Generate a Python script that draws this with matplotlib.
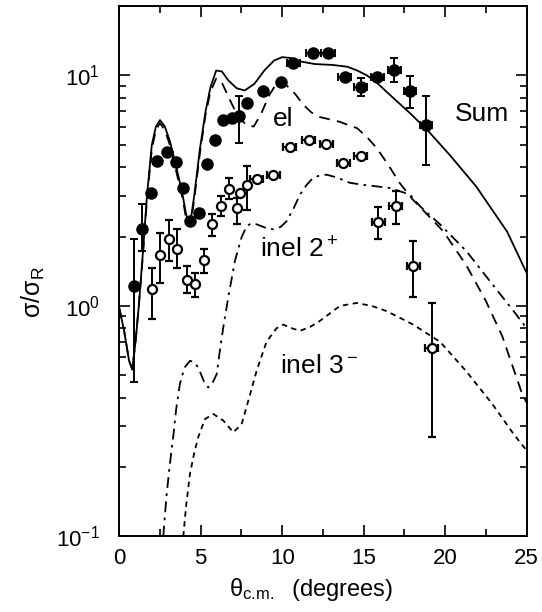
#Import Lib
import matplotlib
matplotlib.use('Agg')
import matplotlib.pyplot as plt
import numpy as np

plt.rcParams['font.family'] = ['Liberation Sans', 'DejaVu Sans']
plt.rcParams['mathtext.default'] = 'regular'

#elastic data (filled circles)
el_theta = [0.90, 1.41, 1.93, 2.29, 2.94, 3.48, 3.93, 4.34, 4.91, 5.40, 5.89, 6.38, 6.90, 7.36, 7.82,
            8.83, 9.90, 10.67, 11.90, 12.82, 13.85, 14.83, 15.83, 16.87, 17.83, 18.82]
el_val = [1.22, 2.15, 3.09, 4.24, 4.66, 4.22, 3.25, 2.33, 2.54, 4.11, 5.27, 6.43, 6.54, 6.65, 7.59,
          8.59, 9.36, 11.3, 12.5, 12.5, 9.8, 8.95, 9.8, 10.6, 8.59, 6.1]
el_lo = [0.47, 1.73, 3.09, 4.24, 4.66, 4.22, 3.25, 2.33, 2.54, 4.11, 5.27, 6.43, 6.54, 5.09, 7.59,
         8.59, 9.36, 11.3, 12.5, 12.5, 9.8, 8.1, 9.8, 9.4, 7.21, 4.1]
el_hi = [1.96, 2.76, 3.09, 4.24, 4.66, 4.22, 3.25, 2.33, 2.54, 4.11, 5.27, 6.43, 6.54, 8.1, 7.59,
         8.59, 9.36, 11.3, 12.5, 12.5, 9.8, 9.75, 9.8, 11.9, 9.9, 8.1]
el_xerr = [0, 0, 0, 0, 0, 0, 0, 0, 0, 0, 0, 0, 0, 0, 0,
           0, 0, 0.4, 0.45, 0.45, 0.4, 0.4, 0.4, 0.4, 0.35, 0.35]

#inelastic 2+ data (open circles)
in_theta = [1.99, 2.50, 3.05, 3.56, 4.13, 4.66, 5.20, 5.67, 6.22, 6.75, 7.24, 7.40, 7.82, 8.43, 9.45,
            10.47, 11.64, 12.70, 13.74, 14.81, 15.89, 16.98, 18.04, 19.17]
in_val = [1.18, 1.66, 1.95, 1.76, 1.30, 1.24, 1.59, 2.27, 2.71, 3.23, 2.65, 3.10, 3.34, 3.57, 3.69,
          4.89, 5.26, 5.04, 4.17, 4.46, 2.32, 2.71, 1.49, 0.656]
in_lo = [0.876, 1.26, 1.57, 1.46, 1.14, 1.09, 1.39, 2.01, 2.45, 2.90, 2.26, 3.10, 2.62, 3.57, 3.69,
         4.89, 5.26, 5.04, 4.17, 4.46, 1.96, 2.27, 1.09, 0.27]
in_hi = [1.46, 2.08, 2.37, 2.15, 1.49, 1.39, 1.76, 2.51, 3.00, 3.60, 2.94, 3.10, 4.03, 3.57, 3.69,
         4.89, 5.26, 5.04, 4.17, 4.46, 2.68, 3.15, 1.91, 1.03]
in_xerr = [0, 0, 0, 0, 0, 0, 0, 0, 0, 0, 0, 0, 0, 0.4, 0.4,
           0.4, 0.4, 0.4, 0.4, 0.4, 0.4, 0.4, 0.4, 0.4]

#Sum curve
sum_theta = [0.0, 0.3, 0.6, 0.8, 1.0, 1.2, 1.45, 1.7, 2.0, 2.25, 2.5, 2.8, 3.1, 3.4, 3.65, 3.9, 4.1,
             4.25, 4.4, 4.6, 4.95, 5.3, 5.6, 5.95, 6.3, 6.7, 7.2, 7.7, 8.3, 8.9, 9.5, 10.0, 10.5,
             11.1, 12.0, 13.1, 14.0, 14.6, 15.2, 15.8, 16.8, 17.8, 18.9, 20.3, 21.9, 23.8, 25.0]
sum_val = [0.98, 0.78, 0.58, 0.53, 0.70, 1.0, 1.7, 3.0, 5.0, 6.0, 6.4, 6.0, 5.2, 4.3, 3.6, 3.0, 2.5,
           2.3, 2.4, 3.0, 4.8, 7.0, 8.9, 10.5, 10.4, 9.5, 8.8, 8.6, 9.2, 10.5, 11.6, 12.0, 11.9,
           11.5, 11.2, 11.1, 10.9, 10.5, 10.0, 9.3, 8.0, 6.9, 5.8, 4.5, 3.3, 2.1, 1.39]

#elastic curve
elc_theta = [0.0, 0.3, 0.6, 0.8, 1.0, 1.2, 1.45, 1.7, 2.0, 2.25, 2.5, 2.8, 3.1, 3.4, 3.65, 3.9, 4.1,
             4.25, 4.4, 4.6, 4.95, 5.3, 5.6, 5.95, 6.3, 6.8, 7.3, 7.8, 8.25, 8.7, 9.2, 9.6, 9.9,
             10.3, 10.8, 11.3, 11.8, 12.3, 13.5, 14.6, 15.2, 15.8, 16.5, 17.2, 18.0, 19.0, 19.9,
             21.3, 22.5, 23.5, 24.7, 25.0]
elc_val = [0.98, 0.78, 0.58, 0.53, 0.70, 1.0, 1.65, 2.9, 4.8, 5.8, 6.2, 5.8, 5.0, 4.1, 3.45, 2.9, 2.4,
           2.22, 2.3, 2.9, 4.6, 6.8, 8.5, 9.7, 9.3, 7.8, 6.6, 6.1, 6.0, 6.8, 8.2, 9.1, 9.4,
           9.0, 8.3, 7.45, 6.9, 6.6, 6.3, 5.9, 5.4, 4.84, 4.1, 3.42, 2.9, 2.45, 2.1,
           1.5, 1.05, 0.74, 0.42, 0.38]

#inel 2+ curve
i2_theta = [2.7, 2.9, 3.11, 3.31, 3.5, 3.72, 4.0, 4.34, 4.6, 4.85, 5.2, 5.46, 5.7, 5.98, 6.2, 6.4,
            6.7, 7.1, 7.5, 7.82, 8.1, 8.43, 9.0, 9.45, 9.9, 10.27, 10.7, 11.09, 11.5, 11.9, 12.3,
            12.72, 13.4, 14.15, 15.0, 16.6, 17.84, 18.45, 19.68, 21.3, 22.9, 24.2, 25.0]
i2_val = [0.1, 0.15, 0.207, 0.27, 0.36, 0.458, 0.54, 0.578, 0.57, 0.54, 0.47, 0.443, 0.46, 0.506,
          0.66, 0.82, 1.1, 1.57, 1.98, 2.22, 2.28, 2.26, 2.18, 2.15, 2.2, 2.33, 2.65, 3.04, 3.35,
          3.6, 3.68, 3.71, 3.6, 3.42, 3.35, 3.25, 3.04, 2.71, 2.26, 1.73, 1.24, 0.95, 0.8]

#inel 3- curve
i3_theta = [3.93, 4.1, 4.34, 4.6, 4.85, 5.26, 5.77, 6.39, 7.0, 7.51, 7.92, 8.43, 9.04, 9.65, 10.06,
            10.6, 11.09, 11.7, 12.3, 13.54, 14.56, 15.5, 16.4, 18.04, 19.26, 19.68, 21.3, 22.9,
            24.2, 25.0]
i3_val = [0.1, 0.135, 0.187, 0.23, 0.27, 0.323, 0.34, 0.318, 0.283, 0.307, 0.388, 0.523, 0.70, 0.8,
          0.83, 0.8, 0.78, 0.81, 0.86, 1.0, 1.03, 1.0, 0.95, 0.83, 0.73, 0.70, 0.52, 0.375,
          0.278, 0.236]

fig = plt.figure(figsize=(5.42, 6.12), dpi=100)
ax = fig.add_axes([0.220, 0.1234, 0.7517, 0.8668])

#curves
ax.plot(sum_theta, sum_val, '-', color='k', lw=1.3)
ax.plot(elc_theta, elc_val, color='k', lw=1.3, dashes=(6, 4))
ax.plot(i2_theta, i2_val, color='k', lw=1.3, dashes=(6, 3, 1.5, 3))
ax.plot(i3_theta, i3_val, color='k', lw=1.3, dashes=(3, 2.5))

#data points
el_val = np.array(el_val)
in_val = np.array(in_val)
el_yerr = [el_val - np.array(el_lo), np.array(el_hi) - el_val]
in_yerr = [in_val - np.array(in_lo), np.array(in_hi) - in_val]
ax.errorbar(el_theta, el_val, yerr=el_yerr, xerr=el_xerr, fmt='o', ms=8, color='k',
            mfc='k', mec='k', elinewidth=1.4, capsize=3, capthick=1.4, zorder=5)
ax.errorbar(in_theta, in_val, yerr=in_yerr, xerr=in_xerr, fmt='o', ms=6.5, color='k',
            mfc='white', mec='k', mew=1.6, elinewidth=1.4, capsize=3, capthick=1.4, zorder=6)

#labels on the curves
ax.text(20.6, 6.8, 'Sum', fontsize=19, va='center', ha='left')
ax.text(9.45, 6.5, 'el', fontsize=19, va='center', ha='left')
ax.text(8.65, 1.75, 'inel 2$^+$', fontsize=19, va='center', ha='left')
ax.text(9.85, 0.55, 'inel 3$^-$', fontsize=19, va='center', ha='left')

ax.set_yscale('log')
ax.set_xlim(0, 25)
ax.set_ylim(0.1, 20)
ax.set_xticks([0, 5, 10, 15, 20, 25])
ax.set_xticks([2.5, 7.5, 12.5, 17.5, 22.5], minor=True)
ax.set_yticks([0.1, 1, 10])
ax.set_yticklabels(['10$^{-1}$', '10$^{0}$', '10$^{1}$'])
ax.tick_params(which='both', direction='in', top=True, right=True, width=1.2)
ax.tick_params(which='major', length=8)
ax.tick_params(which='minor', length=5)
ax.tick_params(axis='x', labelsize=16, pad=8)
ax.tick_params(axis='y', labelsize=16, pad=14)
for s in ax.spines.values():
    s.set_linewidth(1.4)

ax.set_xlabel(r'θ$_{c.\!m.}$  (degrees)', fontsize=17)
ax.xaxis.set_label_coords(0.47, -0.075)
ax.set_ylabel('σ/σ$_R$', fontsize=18)
ax.yaxis.set_label_coords(-0.177, 0.46)

fig.savefig('out.png', dpi=100)
